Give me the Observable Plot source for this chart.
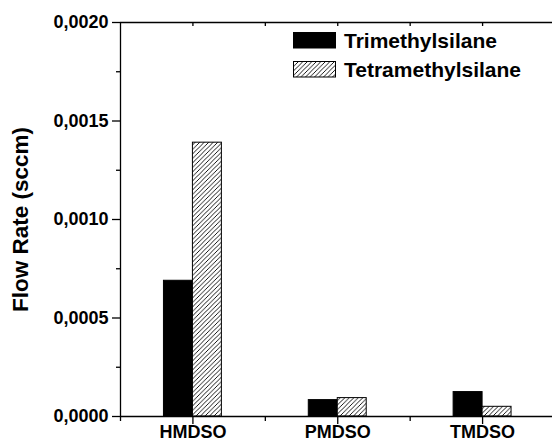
<!DOCTYPE html>
<html><head><meta charset="utf-8">
<script src="https://cdn.jsdelivr.net/npm/d3@7"></script>
<script src="https://cdn.jsdelivr.net/npm/@observablehq/plot@0.6"></script>
<style>
body{margin:0;background:#fff;}
#chart{position:relative;width:552px;height:443px;overflow:hidden;}
</style></head><body><div id="chart"></div>
<script>
const categories = ["HMDSO", "PMDSO", "TMDSO"];
const seriesNames = ["Trimethylsilane", "Tetramethylsilane"];
const trimethylsilane = [0.000689, 0.0000832, 0.000124];
const tetramethylsilane = [0.00139, 0.0000934, 0.0000492];
const yMajorTicks = [0, 0.0005, 0.001, 0.0015, 0.002];
const yMinorTicks = [0.00025, 0.00075, 0.00125, 0.00175];
const yTitle = "Flow Rate (sccm)";

const rows = categories.map((c, i) => ({cat: c, pos: i + 1, tri: trimethylsilane[i], tetra: tetramethylsilane[i]}));
const catPos = categories.map((c, i) => i + 1);
const minorX = [0.5, 1.5, 2.5];
const topTicks = [1, 1.5, 2, 2.5, 3];
const barWidth = 0.2;
const font = "'Liberation Sans', Arial, Helvetica, sans-serif";
const fmt = d => d.toFixed(4).replace(".", ",");
const blank = () => "";

const plot = Plot.plot({
  width: 552, height: 443,
  marginLeft: 120, marginRight: 0, marginTop: 22, marginBottom: 27,
  style: {fontFamily: font, fontWeight: "bold", background: "white", color: "black"},
  x: {type: "linear", domain: [0.5, 3.5], range: [120, 554.5]},
  y: {domain: [0, 0.002]},
  marks: [
    Plot.rectY(rows, {x1: d => d.pos - barWidth, x2: d => d.pos, y: "tri", fill: "black", stroke: "black", strokeWidth: 1}),
    Plot.rectY(rows, {x1: d => d.pos, x2: d => d.pos + barWidth, y: "tetra", fill: "url(#hatch)", stroke: "black", strokeWidth: 1}),
    Plot.ruleY([0, 0.002], {stroke: "black", strokeWidth: 1.3}),
    Plot.ruleX([0.5], {stroke: "black", strokeWidth: 1.3}),
    Plot.axisY(yMajorTicks, {tickFormat: fmt, tickSize: 8, tickPadding: 4, fontSize: 18, label: null, strokeWidth: 1.3}),
    Plot.axisY(yMinorTicks, {tickFormat: blank, tickSize: 4, fontSize: 22.5, label: yTitle, labelAnchor: "center", labelOffset: 108, labelArrow: "none", strokeWidth: 1.3}),
    Plot.axisX(catPos, {tickFormat: i => categories[i - 1], tickSize: 8, tickPadding: 1, fontSize: 18, label: null, strokeWidth: 1.3}),
    Plot.axisX(minorX, {tickFormat: blank, tickSize: 5, label: null, strokeWidth: 1.3}),
    Plot.axisX(topTicks, {anchor: "top", tickFormat: blank, tickSize: -3, label: null, strokeWidth: 1.3})
  ]
});

const svg = d3.select(plot);
const defs = svg.insert("defs", ":first-child");
const s = 4.5;
const pat = defs.append("pattern").attr("id", "hatch").attr("patternUnits", "userSpaceOnUse").attr("width", s).attr("height", s);
pat.append("rect").attr("width", s).attr("height", s).attr("fill", "white");
pat.append("path").attr("d", `M-1,1 L1,-1 M0,${s} L${s},0 M${s-1},${s+1} L${s+1},${s-1}`).attr("stroke", "black").attr("stroke-width", 0.9);

// legend inside plot area
const lg = svg.append("g").attr("font-family", font).attr("font-weight", "bold").attr("font-size", 21).attr("text-anchor", "start");
seriesNames.forEach((name, k) => {
  const y0 = 32.5 + k * 29;
  lg.append("rect").attr("x", 293.5).attr("y", y0).attr("width", 42).attr("height", 15.5)
    .attr("fill", k === 0 ? "black" : "url(#hatch)").attr("stroke", "black").attr("stroke-width", 1);
  lg.append("text").attr("x", 344).attr("y", y0 + 15).attr("fill", "black").attr("text-anchor", "start").text(name);
});

document.getElementById("chart").appendChild(plot);
</script>
</body></html>
